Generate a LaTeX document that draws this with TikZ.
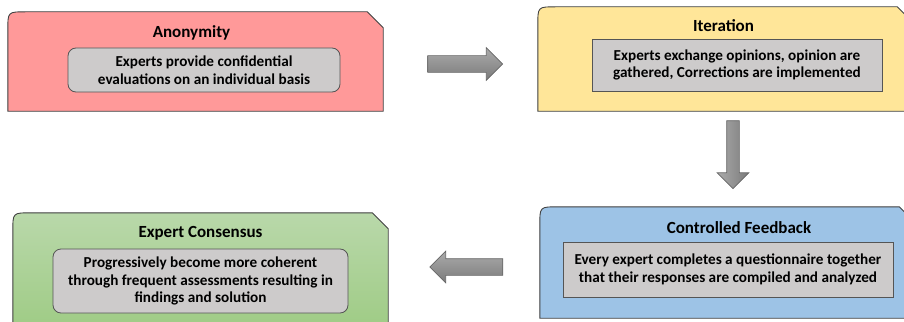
\documentclass[tikz,border=0pt]{standalone}
\usepackage{fontspec}
\setmainfont{Carlito}
\usetikzlibrary{positioning,shapes.arrows,calc}
\definecolor{anonfill}{HTML}{FF9999}
\definecolor{iterfill}{HTML}{FFE699}
\definecolor{feedfill}{HTML}{9DC3E6}
\definecolor{constop}{HTML}{B9D8AA}
\definecolor{consbot}{HTML}{9ECB84}
\definecolor{notegray}{HTML}{CDCBCB}
\definecolor{noteline}{HTML}{555555}
\definecolor{cardline}{HTML}{3F3F3F}
\tikzset{
    card/.style = {
        shape=rectangle,
        inner sep=0pt,
        minimum width=375pt
    },
    cardedge/.style = {
        draw=cardline,
        line width=0.9pt
    },
    title/.style = {
        font=\bfseries\fontsize{17}{20}\selectfont
    },
    note/.style = {
        draw=noteline,
        fill=notegray,
        line width=0.8pt,
        align=center,
        inner sep=0pt,
        font=\bfseries\fontsize{15.2}{17.8}\selectfont
    },
    flow/.style = {
        shape=single arrow,
        draw=black!60,
        line width=0.7pt,
        top color=black!33,
        bottom color=black!52,
        inner sep=0pt,
        single arrow head indent=0pt
    },
}
% card outline: rounded top left, cut top right
\newcommand\cardoutline[2]{%
    \path[cardedge, #2] (#1.south west) -- ([yshift=-18pt]#1.north west)
    .. controls (#1.north west) .. ([xshift=18pt]#1.north west)
    -- ([xshift=-16pt]#1.north east) -- ([yshift=-16pt]#1.north east)
    -- (#1.south east) -- cycle;}

\begin{document}
\begin{tikzpicture}[x=1pt,y=-1pt]
    \useasboundingbox (0,0) rectangle (904,321);
    \clip (0,0) rectangle (904,321);

    \node[card, minimum height=99pt] (anon) at (195.5,61.5) {};
    \node[card, minimum height=104pt] (iter) at (725.5,59) {};
    \node[card, minimum height=111pt] (feed) at (727.5,262.5) {};
    \node[card, minimum height=119pt] (cons) at (200.5,272.5) {};

    \cardoutline{anon}{fill=anonfill}
    \cardoutline{iter}{fill=iterfill}
    \cardoutline{feed}{fill=feedfill}
    \cardoutline{cons}{top color=constop, bottom color=consbot}

    \node[title] (anon-title) at (191.5,33) {Anonymity};
    \node[title] (iter-title) at (723.5,26) {Iteration};
    \node[title] (feed-title) at (739,228) {Controlled Feedback};
    \node[title] (cons-title) at (200.5,233) {Expert Consensus};

    \node[note, rounded corners=8pt, minimum width=272pt, minimum height=44pt]
    (anon-text) at (204,70) {Experts provide confidential\\evaluations on an individual basis};
    \node[note, minimum width=290pt, minimum height=52pt]
    (iter-text) at (737,65) {Experts exchange opinions, opinion are\\gathered, Corrections are implemented};
    \node[note, minimum width=330pt, minimum height=55pt]
    (feed-text) at (728,269.5) {Every expert completes a questionnaire together\\that their responses are compiled and analyzed};
    \node[note, rounded corners=8pt, minimum width=295pt, minimum height=64pt]
    (cons-text) at (200.5,281) {Progressively become more coherent\\through frequent assessments resulting in\\findings and solution};

    \node[flow, inner ysep=8pt, minimum height=75pt, minimum width=32pt,
    single arrow head extend=8pt] (to-iter) at (461,64) {};
    \node[flow, inner xsep=6pt, minimum height=68pt, minimum width=31pt,
    single arrow head extend=9.5pt, shape border rotate=270,
    left color=black!33, right color=black!52] (to-feed) at (733,151.5) {};
    \node[flow, inner ysep=8pt, minimum height=73pt, minimum width=31pt,
    single arrow head extend=7.5pt, shape border rotate=180] (to-cons) at (470.5,267) {};
\end{tikzpicture}
\end{document}
